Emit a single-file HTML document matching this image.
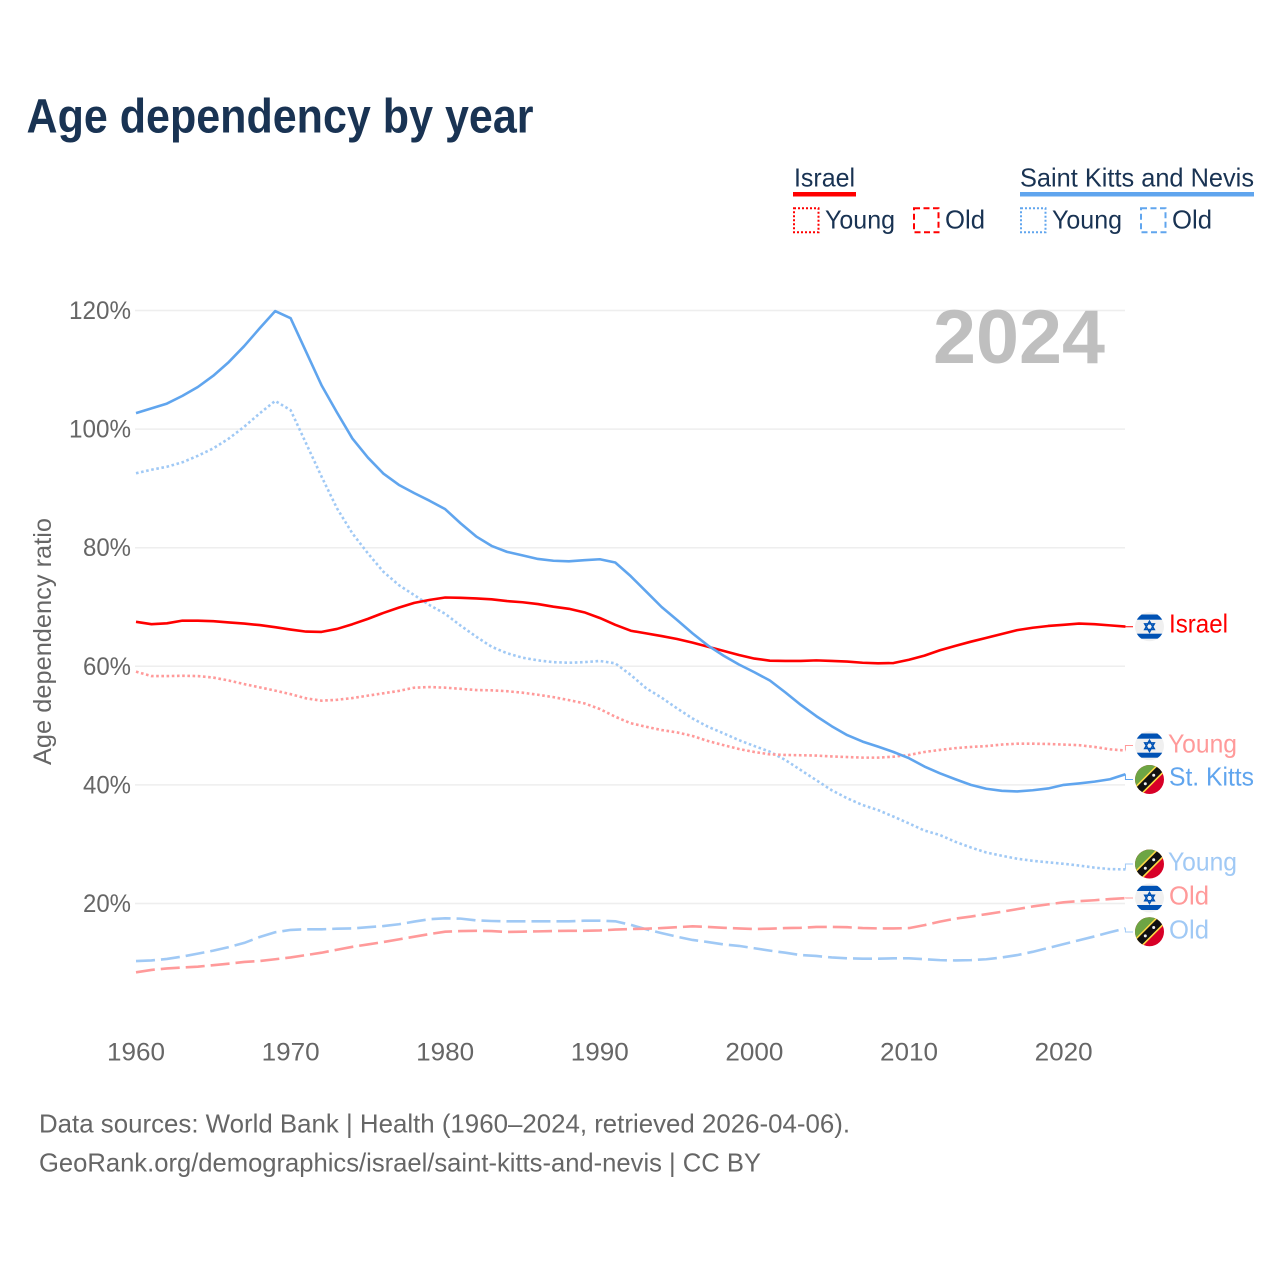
<!DOCTYPE html>
<html lang="en">
<head>
<meta charset="utf-8">
<title>Age dependency by year</title>
<style>
html,body{margin:0;padding:0;background:#fff;width:1280px;height:1280px;overflow:hidden}
svg{display:block;font-family:"Liberation Sans",sans-serif}
</style>
</head>
<body>
<svg id="chart" width="1280" height="1280" viewBox="0 0 1280 1280" xmlns="http://www.w3.org/2000/svg">
<defs>
<clipPath id="flag-clip"><circle cx="0" cy="0" r="14.5"/></clipPath>
<g id="flag-il" clip-path="url(#flag-clip)">
<rect x="-15" y="-15" width="30" height="30" fill="#f0f0f0"/>
<rect x="-15" y="-12.2" width="30" height="5.2" fill="#0052b4"/>
<rect x="-15" y="7" width="30" height="5" fill="#0052b4"/>
<path d="M0,-5.5 L4.8,2.8 L-4.8,2.8 Z M0,5.5 L4.8,-2.8 L-4.8,-2.8 Z" fill="none" stroke="#0052b4" stroke-width="1.5"/>
</g>
<g id="flag-kn" clip-path="url(#flag-clip)">
<rect x="-15" y="-15" width="30" height="30" fill="#d80027"/>
<path d="M-15,-15 H15 L-15,15 Z" fill="#6da544"/>
<path d="M-15,7.5 L7.5,-15 H15 V-7.5 L-7.5,15 H-15 Z" fill="#ffda44"/>
<path d="M-13,13 L13,-13" stroke="#111" stroke-width="7.5"/>
<circle cx="-4.2" cy="4.2" r="1.5" fill="#f0f0f0"/>
<circle cx="4.2" cy="-4.2" r="1.5" fill="#f0f0f0"/>
</g>
</defs>

<rect x="0" y="0" width="1280" height="1280" fill="#fff"/>

<text x="26.5" y="132.5" font-size="48" font-weight="700" fill="#193353" textLength="507" lengthAdjust="spacingAndGlyphs">Age dependency by year</text>

<g font-size="26" fill="#193353">
<text x="794" y="186.5" textLength="61" lengthAdjust="spacingAndGlyphs">Israel</text>
<rect x="793" y="192" width="63" height="4.5" fill="#ff0000"/>
<rect x="794" y="208.3" width="24.5" height="24" fill="none" stroke="#ff0000" stroke-width="2" stroke-dasharray="2 2"/>
<text x="825" y="228.5" textLength="70" lengthAdjust="spacingAndGlyphs">Young</text>
<rect x="914" y="208.3" width="24.5" height="24" fill="none" stroke="#ff0000" stroke-width="2" stroke-dasharray="6 3.5"/>
<text x="945" y="228.5" textLength="40" lengthAdjust="spacingAndGlyphs">Old</text>
<text x="1020" y="186.5" textLength="234" lengthAdjust="spacingAndGlyphs">Saint Kitts and Nevis</text>
<rect x="1020" y="192" width="234" height="4.5" fill="#60a5ee"/>
<rect x="1021" y="208.3" width="24.5" height="24" fill="none" stroke="#60a5ee" stroke-width="2" stroke-dasharray="2 2"/>
<text x="1052" y="228.5" textLength="70" lengthAdjust="spacingAndGlyphs">Young</text>
<rect x="1141" y="208.3" width="24.5" height="24" fill="none" stroke="#60a5ee" stroke-width="2" stroke-dasharray="6 3.5"/>
<text x="1172" y="228.5" textLength="40" lengthAdjust="spacingAndGlyphs">Old</text>
</g>

<g id="grid"></g>
<g id="y-ticks"></g>
<g id="x-ticks"></g>

<text transform="translate(51,765) rotate(-90)" font-size="25" fill="#666" textLength="247" lengthAdjust="spacingAndGlyphs">Age dependency ratio</text>

<text x="933" y="363" font-size="76" font-weight="700" fill="#bfbfbf" textLength="172" lengthAdjust="spacingAndGlyphs">2024</text>

<g id="series"></g>
<g id="connectors"></g>

<g font-size="26">
<use href="#flag-il" x="1149.5" y="626.7"/>
<use href="#flag-il" x="1149.5" y="745.7"/>
<use href="#flag-kn" x="1149.5" y="779.5"/>
<use href="#flag-kn" x="1149.5" y="864"/>
<use href="#flag-il" x="1149.5" y="898"/>
<use href="#flag-kn" x="1149.5" y="931.7"/>
<text x="1169" y="632.7" fill="#ff0000" textLength="59" lengthAdjust="spacingAndGlyphs">Israel</text>
<text x="1168" y="752.5" fill="#ff9a9a" textLength="69" lengthAdjust="spacingAndGlyphs">Young</text>
<text x="1169" y="785.7" fill="#60a5ee" textLength="85" lengthAdjust="spacingAndGlyphs">St. Kitts</text>
<text x="1168" y="870.5" fill="#a0c9f5" textLength="69" lengthAdjust="spacingAndGlyphs">Young</text>
<text x="1169" y="904.7" fill="#ff9a9a" textLength="40" lengthAdjust="spacingAndGlyphs">Old</text>
<text x="1169" y="938.3" fill="#a0c9f5" textLength="40" lengthAdjust="spacingAndGlyphs">Old</text>
</g>

<g font-size="26" fill="#666">
<text x="39" y="1132.3" textLength="811" lengthAdjust="spacingAndGlyphs">Data sources: World Bank | Health (1960–2024, retrieved 2026-04-06).</text>
<text x="39" y="1171.3" textLength="722" lengthAdjust="spacingAndGlyphs">GeoRank.org/demographics/israel/saint-kitts-and-nevis | CC BY</text>
</g>
</svg>

<script>
const startYear = 1960;
const xTickLabels = [1960, 1970, 1980, 1990, 2000, 2010, 2020];
const yTickLabels = [20, 40, 60, 80, 100, 120];

const israelTotal = [67.5,67.1,67.25,67.7,67.7,67.6,67.4,67.2,66.95,66.6,66.2,65.85,65.8,66.3,67.1,68,69,69.9,70.7,71.2,71.6,71.55,71.45,71.3,71,70.8,70.5,70.05,69.7,69.1,68.15,67,66,65.55,65.1,64.6,64,63.3,62.6,61.9,61.3,60.95,60.9,60.9,61,60.9,60.8,60.6,60.5,60.55,61.1,61.8,62.7,63.45,64.15,64.8,65.45,66.1,66.5,66.8,67,67.2,67.1,66.9,66.7];
const israelYoung = [59.1,58.35,58.35,58.4,58.35,58.1,57.6,57,56.45,55.9,55.3,54.6,54.2,54.35,54.65,55.05,55.45,55.85,56.4,56.5,56.4,56.2,56,55.95,55.8,55.55,55.2,54.8,54.3,53.75,52.8,51.5,50.4,49.8,49.25,48.85,48.25,47.4,46.7,46.05,45.55,45.15,45.05,45,44.95,44.8,44.7,44.6,44.6,44.75,45.05,45.55,45.9,46.2,46.4,46.55,46.8,46.95,46.95,46.9,46.8,46.7,46.4,46,45.8];
const israelOld = [8.4,8.8,9.05,9.2,9.35,9.6,9.85,10.15,10.3,10.6,10.9,11.3,11.7,12.2,12.7,13.1,13.5,13.95,14.4,14.85,15.25,15.35,15.4,15.35,15.2,15.25,15.3,15.35,15.4,15.4,15.45,15.6,15.7,15.75,15.85,16,16.15,16.05,15.9,15.8,15.7,15.75,15.85,15.9,16.05,16.05,16,15.85,15.8,15.8,15.85,16.35,16.95,17.45,17.8,18.2,18.6,19.05,19.5,19.85,20.2,20.4,20.55,20.75,20.9];
const kittsTotal = [102.7,103.5,104.3,105.6,107.1,109,111.3,114,117,119.9,118.7,113.05,107.4,102.8,98.4,95.2,92.5,90.6,89.2,87.9,86.5,84.1,81.9,80.3,79.3,78.7,78.1,77.8,77.7,77.9,78.05,77.5,75.2,72.6,70,67.8,65.55,63.5,61.8,60.3,59,57.6,55.6,53.5,51.6,49.9,48.4,47.3,46.45,45.55,44.5,43.1,41.95,40.95,40,39.35,39,38.9,39.1,39.4,40,40.25,40.55,40.95,41.8];
const kittsYoung = [92.55,93.15,93.65,94.4,95.5,96.75,98.4,100.4,102.65,104.75,103.2,97.6,92,86.65,82.4,79.05,75.95,73.7,72,70.3,68.85,66.85,65,63.3,62.2,61.45,61,60.7,60.6,60.7,60.9,60.5,58.55,56.3,54.7,52.9,51.2,49.8,48.7,47.55,46.55,45.6,44.2,42.5,40.8,39.1,37.75,36.6,35.75,34.65,33.5,32.3,31.55,30.4,29.45,28.6,28.05,27.55,27.2,26.95,26.7,26.4,26.05,25.8,25.75];
const kittsOld = [10.3,10.4,10.65,11.05,11.55,12.05,12.65,13.35,14.35,15.15,15.55,15.65,15.65,15.75,15.8,16,16.2,16.5,16.95,17.35,17.5,17.45,17.15,17.05,17,17,17,17,17,17.1,17.1,17,16.4,15.65,15,14.4,13.85,13.5,13.1,12.85,12.45,12.05,11.7,11.3,11.15,10.9,10.75,10.7,10.7,10.75,10.75,10.6,10.45,10.4,10.45,10.6,10.9,11.3,11.85,12.5,13.15,13.8,14.45,15.15,15.8];

const NS = 'http://www.w3.org/2000/svg';
function xScale(year) { return 136 + (year - startYear) * 15.46; }
function yScale(value) { return 1022.1 - 5.93 * value; }
function make(tag, attrs, parent) {
  const el = document.createElementNS(NS, tag);
  for (const k in attrs) el.setAttribute(k, attrs[k]);
  parent.appendChild(el);
  return el;
}

const gridGroup = document.getElementById('grid');
const yTickGroup = document.getElementById('y-ticks');
yTickLabels.forEach(function (v) {
  const line = make('line', { x1: 135, x2: 1125, y1: yScale(v), y2: yScale(v), stroke: '#eeeeee', 'stroke-width': 1.5 }, gridGroup);
  
  
  const label = v + '%';
  const t = make('text', { x: 131, y: yScale(v) + 8.5, 'text-anchor': 'end', 'font-size': 25, fill: '#666', textLength: label.length === 4 ? 62 : 48, lengthAdjust: 'spacingAndGlyphs' }, yTickGroup);
  t.textContent = label;
  
  
});

const xTickGroup = document.getElementById('x-ticks');
xTickLabels.forEach(function (y) {
  const t = make('text', { x: xScale(y), y: 1060.3, 'text-anchor': 'middle', 'font-size': 25, fill: '#666', textLength: 58, lengthAdjust: 'spacingAndGlyphs' }, xTickGroup);
  t.textContent = String(y);
  
  
});

function drawLine(values, color, dash, name, labelY) {
  const seriesGroup = document.getElementById('series');
  const connectorGroup = document.getElementById('connectors');
  const pts = values.map(function (v, i) { return xScale(startYear + i).toFixed(2) + ',' + yScale(v).toFixed(2); }).join(' ');
  const attrs = { points: pts, fill: 'none', stroke: color, 'stroke-width': 2.6, 'stroke-linejoin': 'round' };
  if (dash) attrs['stroke-dasharray'] = dash;
  const line = make('polyline', attrs, seriesGroup);
  
  
  const endX = xScale(startYear + values.length - 1);
  const endY = yScale(values[values.length - 1]);
  const conn = make('path', { d: 'M' + endX + ',' + endY + ' V' + labelY + ' H1133', fill: 'none', stroke: color, 'stroke-width': 1 }, connectorGroup);
  
  
}

drawLine(kittsOld, '#a0c9f5', '19 6', 'kn-old-line', 932);
drawLine(israelOld, '#ff9a9a', '19 6', 'israel-old-line', 898);
drawLine(kittsYoung, '#a0c9f5', '2.6 2.6', 'kn-young-line', 864);
drawLine(israelYoung, '#ff9a9a', '2.6 2.6', 'israel-young-line', 745.5);
drawLine(israelTotal, '#ff0000', '', 'israel-total-line', 626.7);
drawLine(kittsTotal, '#60a5ee', '', 'kn-total-line', 779.5);
</script>
</body>
</html>
